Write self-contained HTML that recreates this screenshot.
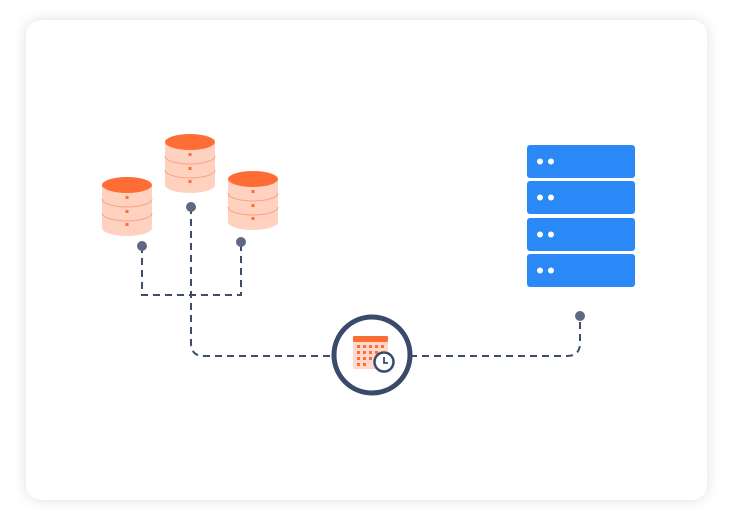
<!DOCTYPE html>
<html><head><style>
html,body{margin:0;padding:0;background:#fff;width:730px;height:529px;overflow:hidden}
.card{position:absolute;left:26px;top:20px;width:681px;height:480px;background:#fff;border-radius:15px;box-shadow:0 0 14px rgba(0,0,0,0.13)}
svg{position:absolute;left:0;top:0}
</style></head><body>
<div class="card"></div>
<svg width="730" height="529" viewBox="0 0 730 529">
<defs>
<g id="db">
<path d="M-25,0 V43 A25,8 0 0 0 25,43 V0 Z" fill="#ffd1bf"/>
<path d="M-25,14 A25,8 0 0 0 25,14 M-25,28 A25,8 0 0 0 25,28" fill="none" stroke="#f9a685" stroke-width="1"/>
<ellipse cx="0" cy="0" rx="25" ry="8" fill="#ff6d36"/>
<rect x="-1.5" y="11" width="3" height="3" fill="#ff6d36"/>
<rect x="-1.5" y="25" width="3" height="3" fill="#ff6d36"/>
<rect x="-1.5" y="38" width="3" height="3" fill="#ff6d36"/>
</g>
<g id="srv"><rect x="0" y="0" width="108" height="33" rx="3" fill="#2b88f7"/><circle cx="13" cy="16.5" r="3" fill="#fff"/><circle cx="24" cy="16.5" r="3" fill="#fff"/></g>
</defs>
<g fill="none" stroke="#3d4d6b" stroke-width="2" stroke-dasharray="7,5">
<path d="M142,246 V295 H241 V242"/>
<path d="M191,207 V343 Q191,356 204,356 H334"/>
<path d="M410,356 H567 Q580,356 580,343 V316"/>
</g>
<use href="#db" x="127" y="185"/>
<use href="#db" x="190" y="142"/>
<use href="#db" x="253" y="179"/>
<circle cx="142" cy="246" r="5" fill="#5f6885"/>
<circle cx="191" cy="207" r="5" fill="#5f6885"/>
<circle cx="241" cy="242" r="5" fill="#5f6885"/>
<circle cx="580" cy="316" r="5" fill="#5f6885"/>
<use href="#srv" x="527" y="145"/>
<use href="#srv" x="527" y="181"/>
<use href="#srv" x="527" y="218"/>
<use href="#srv" x="527" y="254"/>
<circle cx="372" cy="355" r="38" fill="#fff" stroke="#394a6a" stroke-width="5"/>
<rect x="353" y="336" width="35" height="33" rx="2" fill="#ffd8cb"/>
<rect x="353" y="336" width="35" height="6" rx="1" fill="#ff6d36"/>
<g fill="#ff6d36">
<rect x="357" y="345" width="3" height="3"/><rect x="363" y="345" width="3" height="3"/><rect x="369" y="345" width="3" height="3"/><rect x="375" y="345" width="3" height="3"/><rect x="381" y="345" width="3" height="3"/>
<rect x="357" y="351" width="3" height="3"/><rect x="363" y="351" width="3" height="3"/><rect x="369" y="351" width="3" height="3"/><rect x="375" y="351" width="3" height="3"/>
<rect x="357" y="357" width="3" height="3"/><rect x="363" y="357" width="3" height="3"/><rect x="369" y="357" width="3" height="3"/>
<rect x="357" y="363" width="3" height="3"/><rect x="363" y="363" width="3" height="3"/>
</g>
<circle cx="384" cy="362" r="9.5" fill="#fff" stroke="#394a6a" stroke-width="2.5"/>
<path d="M384,357 V363 H388" fill="none" stroke="#394a6a" stroke-width="1.8"/>
</svg>
</body></html>
